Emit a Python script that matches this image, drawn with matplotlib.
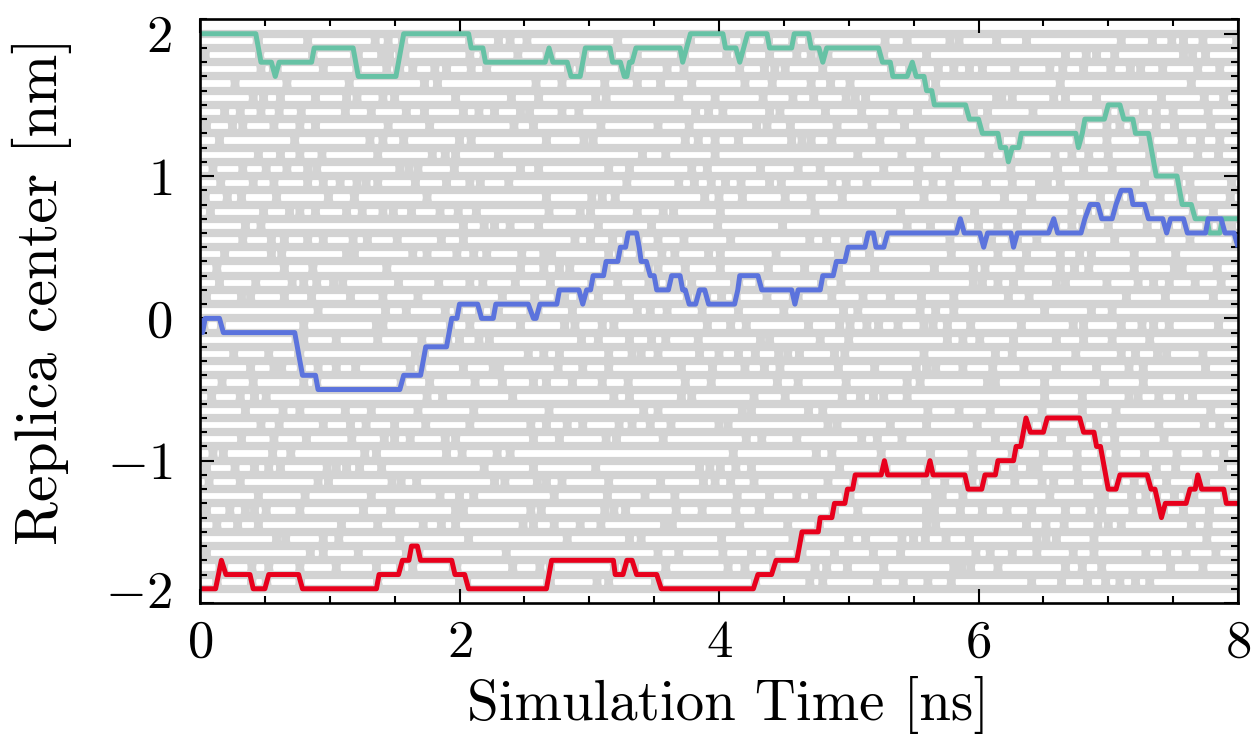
import numpy as np
import matplotlib
matplotlib.use('Agg')
import matplotlib.pyplot as plt
from matplotlib.collections import LineCollection
from matplotlib.transforms import ScaledTranslation

plt.rcParams['font.family'] = 'cmr10'
plt.rcParams['mathtext.fontset'] = 'cm'
plt.rcParams['axes.formatter.use_mathtext'] = True
plt.rcParams['axes.unicode_minus'] = True

# ---------------- data ----------------
replica_centers = [2.0, 1.9, 1.8, 1.7, 1.6, 1.5, 1.4, 1.3, 1.2, 1.1, 1.0, 0.9, 0.8,
                   0.7, 0.6, 0.5, 0.4, 0.3, 0.2, 0.1, 0.0, -0.1, -0.2, -0.3, -0.4,
                   -0.5, -0.6, -0.7, -0.8, -0.9, -1.0, -1.1, -1.2, -1.3, -1.4, -1.5,
                   -1.6, -1.7, -1.8, -1.9]

# exchange times [ns] between neighbouring centres (row g: between centre g and g+1)
swap_rows = [
    [0.45, 0.83, 1.35, 1.45, 1.57, 2.08, 2.30, 2.39, 2.52, 3.22, 3.78, 4.05, 4.2, 4.38, 4.57, 4.70, 5.28, 5.45, 5.78, 5.85, 6.14, 6.37, 7.10, 7.34, 7.49, 7.58, 7.73, 7.99],
    [0.04, 0.46, 0.87, 1.22, 1.40, 1.46, 1.58, 2.08, 2.19, 2.45, 2.69, 2.96, 3.17, 3.37, 3.73, 4.06, 4.15, 4.39, 4.6, 4.71, 4.84, 5.27, 5.60, 6.67, 6.83, 6.91, 7.05, 7.58, 7.65, 7.75],
    [0.47, 0.59, 0.95, 1.21, 1.44, 1.54, 1.64, 1.81, 1.90, 2.09, 2.21, 2.84, 2.93, 3.27, 3.31, 3.6, 3.73, 4.16, 4.35, 4.43, 4.51, 4.8, 5.33, 5.52, 5.69, 5.81, 5.93, 6.03, 6.28, 6.55, 6.65, 6.81, 7.02, 7.17, 7.25, 7.42, 7.69, 7.86],
    [0.27, 0.67, 1.15, 1.73, 1.83, 2.59, 2.79, 3.12, 3.37, 3.55, 3.79, 4.20, 4.41, 4.71, 4.86, 5.01, 5.59, 5.67, 6.63, 7.64],
    [0.41, 0.49, 0.62, 0.89, 1.13, 1.21, 1.41, 1.50, 1.97, 2.40, 2.61, 3.05, 3.13, 3.69, 3.97, 4.34, 4.57, 4.73, 4.98, 5.05, 5.13, 5.65, 6.14, 6.18, 6.26, 6.58, 6.67, 6.91, 7.41, 7.74, 7.89],
    [0.19, 0.31, 0.47, 0.61, 0.78, 1.12, 1.32, 1.59, 1.73, 2.03, 2.15, 2.27, 2.47, 2.54, 2.79, 2.92, 3.82, 3.92, 4.03, 4.39, 4.47, 4.82, 5.10, 5.34, 5.53, 5.96, 6.07, 6.42, 6.99, 7.13, 7.27, 7.37, 7.50, 7.77],
    [0.05, 0.25, 0.33, 0.57, 0.77, 0.89, 1.45, 1.77, 2.42, 2.57, 3.09, 3.53, 3.77, 4.29, 4.37, 4.55, 4.91, 5.18, 5.43, 6.05, 6.78, 6.99, 7.09, 7.37, 7.51, 7.79],
    [0.15, 0.73, 1.31, 1.41, 1.57, 2.00, 2.09, 2.67, 2.96, 3.03, 3.74, 3.84, 3.97, 4.15, 4.56, 4.64, 4.71, 4.87, 5.24, 5.55, 6.16, 6.77, 6.99, 7.27, 7.57, 7.71, 7.86],
    [0.45, 0.62, 0.77, 0.94, 1.37, 1.79, 1.89, 1.97, 2.30, 3.41, 3.59, 3.97, 5.07, 5.41, 5.67, 6.08, 6.59, 6.72, 6.85, 7.00, 7.32, 7.69, 7.85],
    [0.10, 0.33, 0.51, 0.67, 0.83, 0.90, 1.54, 1.61, 1.68, 1.96, 2.47, 2.61, 3.15, 3.31, 3.79, 3.91, 4.32, 4.61, 4.78, 5.27, 5.54, 5.83, 6.25, 6.61, 6.81, 7.03, 7.54],
    [0.16, 0.41, 0.57, 0.83, 0.95, 1.08, 1.21, 1.28, 1.37, 1.66, 1.90, 2.08, 2.16, 2.38, 3.29, 3.69, 3.81, 3.94, 4.05, 4.17, 4.39, 4.48, 4.87, 4.98, 5.14, 5.53, 5.65, 5.78, 6.06, 6.26, 6.47, 6.53, 6.63, 7.28, 7.63, 7.95],
    [0.04, 0.21, 0.32, 0.59, 0.99, 1.19, 1.75, 2.67, 3.02, 3.10, 3.20, 3.89, 4.00, 4.18, 4.51, 4.71, 4.95, 5.58, 5.79, 6.20, 6.41, 6.73, 6.94, 7.08, 7.40, 7.65, 7.94],
    [0.08, 0.49, 0.69, 0.77, 0.89, 1.13, 1.25, 1.41, 1.49, 1.63, 1.85, 1.99, 2.13, 2.69, 2.93, 3.01, 3.37, 3.57, 3.65, 4.01, 4.74, 5.40, 5.97, 6.33, 6.72, 7.32, 7.81],
    [0.35, 0.47, 2.03, 2.19, 2.27, 2.39, 2.61, 3.07, 3.48, 3.99, 4.49, 5.45, 5.63, 6.00, 6.15, 6.30, 6.72, 7.00, 7.30, 7.95],
    [0.33, 0.55, 0.65, 0.83, 0.95, 1.18, 1.29, 1.52, 1.86, 2.03, 2.89, 3.01, 3.18, 3.33, 3.53, 3.73, 4.09, 4.70, 4.83, 4.97, 5.78, 6.10, 6.30, 6.45, 7.05, 7.40, 7.63],
    [0.19, 0.55, 0.63, 1.13, 1.19, 1.64, 1.75, 1.98, 2.11, 2.21, 2.48, 2.65, 2.71, 3.15, 3.56, 3.66, 3.92, 4.01, 4.44, 4.92, 5.16, 5.79, 6.15, 6.37, 6.63, 6.78, 6.87, 7.20, 7.52],
    [0.13, 0.65, 0.87, 1.44, 2.47, 2.65, 2.77, 2.85, 3.13, 3.53, 3.74, 4.01, 4.38, 4.66, 4.92, 5.20, 5.66, 5.96, 6.05, 6.32, 6.63, 6.74, 6.85, 7.20, 7.51, 7.57, 7.84],
    [0.15, 0.43, 0.71, 0.80, 0.90, 1.03, 1.10, 1.53, 1.84, 2.08, 2.18, 2.43, 2.70, 3.22, 3.46, 3.66, 3.79, 4.12, 4.80, 4.94, 5.96, 6.03, 6.15, 6.27, 6.60, 6.67, 6.99, 7.23, 7.35, 7.47, 7.67, 7.87],
    [0.05, 0.32, 0.39, 0.65, 0.86, 1.16, 1.41, 1.68, 2.33, 2.58, 2.81, 3.07, 3.31, 3.76, 4.02, 4.37, 4.61, 4.87, 5.11, 5.32, 5.56, 5.81, 6.23, 6.39, 7.14, 7.44, 7.81],
    [0.91, 1.43, 1.59, 1.89, 2.30, 2.87, 3.37, 3.47, 3.60, 3.87, 4.15, 4.50, 4.96, 5.07, 5.55, 5.67, 5.81, 6.51, 6.87, 7.03],
    [0.80, 1.36, 1.41, 2.08, 2.47, 2.81, 2.89, 3.10, 3.19, 3.91, 4.09, 4.21, 4.69, 4.93, 5.01, 5.14, 5.23, 5.38, 5.58, 5.65, 5.76, 5.94, 6.33, 6.73, 6.81, 7.10, 7.26, 7.35, 7.47, 7.85],
    [0.80, 1.05, 1.37, 1.71, 2.00, 2.15, 2.23, 2.94, 3.07, 3.31, 3.48, 3.59, 3.84, 4.32, 4.39, 4.78, 5.00, 5.76, 5.88, 6.01, 6.27, 6.60, 6.81, 7.03, 7.32],
    [0.26, 0.53, 0.77, 1.66, 2.53, 2.65, 2.77, 3.15, 3.33, 3.40, 3.53, 3.85, 4.00, 4.15, 4.28, 4.46, 4.53, 4.62, 4.89, 4.97, 5.58, 6.13, 6.26, 6.75, 7.10, 7.21, 7.38, 7.45, 7.73],
    [0.39, 0.57, 0.63, 0.91, 1.05, 1.20, 1.62, 2.03, 2.26, 2.31, 2.76, 2.95, 3.15, 3.71, 3.95, 4.20, 4.35, 4.47, 4.92, 5.20, 5.52, 5.60, 5.67, 5.88, 6.11, 6.35, 6.60, 6.91, 7.16, 7.27, 7.75],
    [0.17, 0.41, 0.80, 1.55, 1.77, 2.12, 2.33, 2.57, 2.67, 2.87, 3.10, 3.30, 3.74, 3.94, 4.45, 4.61, 4.98, 5.45, 5.55, 6.07, 6.13, 6.51, 6.97, 7.27],
    [0.09, 0.31, 0.42, 0.51, 1.75, 1.87, 2.41, 3.19, 3.31, 3.71, 3.79, 4.27, 4.51, 4.95, 5.09, 5.19, 5.27, 5.45, 6.51, 6.80, 7.16, 7.23, 7.39, 7.55, 7.65],
    [0.35, 0.64, 0.77, 1.12, 1.32, 1.68, 2.11, 2.69, 3.42, 3.53, 4.18, 4.25, 4.69, 4.80, 5.61, 5.85, 6.09, 6.49, 6.80, 7.06, 7.79],
    [0.47, 0.61, 0.95, 1.16, 1.28, 1.50, 1.74, 2.08, 2.55, 2.67, 2.83, 2.95, 3.23, 3.33, 3.47, 3.63, 4.00, 4.07, 4.84, 4.91, 5.32, 5.60, 5.99, 6.33, 6.91, 7.03, 7.39, 7.74, 7.86],
    [0.32, 0.57, 0.82, 1.17, 1.42, 1.50, 1.62, 1.89, 1.97, 2.57, 2.77, 3.13, 3.21, 3.57, 4.21, 4.33, 4.60, 5.10, 5.22, 5.41, 6.13, 6.64, 6.92, 7.05, 7.43],
    [0.10, 0.18, 0.56, 0.70, 1.27, 1.36, 1.90, 2.02, 2.29, 2.39, 4.11, 4.75, 4.87, 5.25, 5.63, 5.95, 6.26, 6.50, 6.76, 7.06, 7.28, 7.53, 7.76, 7.89],
    [0.05, 0.27, 0.42, 0.53, 0.62, 0.98, 1.05, 1.13, 1.23, 1.40, 2.19, 2.57, 3.05, 3.85, 3.93, 4.01, 4.13, 4.25, 4.93, 5.63, 5.96, 6.27, 6.40, 6.46, 6.76, 7.04, 7.37, 7.52, 7.88],
    [0.07, 0.31, 0.91, 0.99, 1.48, 1.55, 1.67, 2.27, 2.35, 2.60, 2.67, 2.79, 3.15, 3.55, 3.88, 3.97, 4.09, 4.27, 4.84, 5.59, 5.74, 5.95, 6.28, 6.49, 6.58, 6.77, 7.20, 7.45, 7.75],
    [0.45, 0.81, 1.32, 1.85, 2.00, 2.11, 2.73, 3.14, 3.43, 3.66, 4.14, 4.39, 4.60, 4.72, 5.01, 5.67, 5.72, 5.88, 6.55, 6.92, 6.97, 7.18, 7.29, 7.51, 7.66, 7.90],
    [0.05, 0.23, 0.35, 0.42, 0.51, 0.77, 1.26, 1.47, 1.97, 2.03, 2.55, 2.63, 3.12, 3.19, 3.28, 3.67, 3.87, 4.13, 4.31, 4.89, 5.07, 5.60, 5.66, 5.86, 6.03, 6.22, 6.41, 6.67, 6.86, 6.95, 7.19, 7.37, 7.58, 7.78],
    [0.13, 0.29, 0.45, 1.09, 1.37, 1.72, 1.86, 1.97, 2.49, 2.57, 2.73, 2.93, 3.09, 3.58, 3.64, 4.16, 4.53, 4.77, 5.60, 5.67, 6.37, 6.52, 6.66, 6.92, 7.00, 7.10, 7.64, 7.77],
    [0.59, 0.66, 0.95, 1.07, 1.54, 2.07, 2.83, 3.31, 3.40, 4.02, 4.57, 5.00, 5.13, 5.41, 5.50, 5.59, 5.75, 5.93, 6.45, 6.52, 6.60, 6.89, 7.76],
    [0.05, 0.85, 0.95, 1.22, 1.59, 2.36, 3.53, 3.69, 4.03, 4.25, 4.40, 4.64, 4.89, 5.19, 5.40, 5.98, 6.09, 6.26, 6.45, 6.73, 6.89, 7.29, 7.45, 7.60, 7.83],
    [0.17, 0.40, 0.53, 0.77, 1.05, 1.36, 1.64, 1.98, 2.41, 2.62, 3.59, 4.07, 4.20, 4.44, 4.74, 4.83, 4.99, 5.27, 5.81, 5.87, 5.94, 6.15, 6.67, 6.80, 6.95, 7.48, 7.73],
    [0.13, 0.40, 0.51, 0.77, 1.37, 2.00, 2.70, 3.06, 3.15, 3.51, 4.28, 4.70, 4.80, 5.22, 5.42, 5.61, 5.79, 6.41, 6.64, 6.84, 6.98, 7.09, 7.21, 7.32],
]

green_t = [0, 0.43, 0.45, 0.47, 0.55, 0.58, 0.61, 0.86, 0.88, 1.18, 1.20, 1.22, 1.51, 1.53, 1.55, 1.57,
           2.07, 2.09, 2.18, 2.20, 2.66, 2.69, 2.72, 2.83, 2.86, 2.93, 2.95, 2.97, 3.16, 3.18, 3.24,
           3.27, 3.29, 3.31, 3.33, 3.36, 3.70, 3.72, 3.75, 3.78, 4.03, 4.05, 4.13, 4.16, 4.19, 4.22,
           4.37, 4.39, 4.56, 4.58, 4.69, 4.71, 4.77, 4.80, 4.83, 5.23, 5.26, 5.32, 5.34, 5.45, 5.49,
           5.52, 5.58, 5.60, 5.64, 5.66, 5.90, 5.93, 6.00, 6.03, 6.15, 6.17, 6.21, 6.23, 6.26, 6.31,
           6.33, 6.75, 6.77, 6.80, 6.82, 6.97, 7.00, 7.09, 7.12, 7.19, 7.21, 7.31, 7.33, 7.35, 7.37,
           7.53, 7.55, 7.57, 7.64, 7.67, 7.76, 7.78, 7.86, 7.88, 8.0]
green_y = [2.0, 2.0, 1.9, 1.8, 1.8, 1.7, 1.8, 1.8, 1.9, 1.9, 1.8, 1.7, 1.7, 1.8, 1.9, 2.0,
           2.0, 1.9, 1.9, 1.8, 1.8, 1.9, 1.8, 1.8, 1.7, 1.7, 1.8, 1.9, 1.9, 1.8, 1.8,
           1.7, 1.7, 1.8, 1.8, 1.9, 1.9, 1.8, 1.9, 2.0, 2.0, 1.9, 1.9, 1.8, 1.9, 2.0,
           2.0, 1.9, 1.9, 2.0, 2.0, 1.9, 1.9, 1.8, 1.9, 1.9, 1.8, 1.8, 1.7, 1.7, 1.8,
           1.7, 1.7, 1.6, 1.6, 1.5, 1.5, 1.4, 1.4, 1.3, 1.3, 1.2, 1.2, 1.1, 1.2, 1.2,
           1.3, 1.3, 1.2, 1.3, 1.4, 1.4, 1.5, 1.5, 1.4, 1.4, 1.3, 1.3, 1.2, 1.1, 1.0,
           1.0, 0.9, 0.8, 0.8, 0.7, 0.7, 0.6, 0.6, 0.7, 0.7]

blue_t = [0, 0.02, 0.04, 0.15, 0.18, 0.73, 0.75, 0.77, 0.79, 0.89, 0.91, 1.54, 1.57, 1.70, 1.72, 1.74,
          1.90, 1.92, 1.94, 1.98, 2.00, 2.14, 2.17, 2.26, 2.28, 2.53, 2.57, 2.59, 2.62, 2.75, 2.77,
          2.92, 2.95, 2.98, 3.01, 3.03, 3.11, 3.13, 3.22, 3.24, 3.28, 3.30, 3.365, 3.385, 3.40, 3.44,
          3.47, 3.50, 3.52, 3.61, 3.635, 3.70, 3.72, 3.74, 3.77, 3.82, 3.85, 3.89, 3.92, 4.12, 4.145,
          4.16, 4.30, 4.33, 4.56, 4.585, 4.61, 4.78, 4.80, 4.88, 4.905, 4.97, 4.995, 5.125, 5.15, 5.19,
          5.21, 5.27, 5.30, 5.83, 5.86, 5.89, 6.01, 6.04, 6.07, 6.25, 6.27, 6.30, 6.54, 6.58, 6.61,
          6.79, 6.82, 6.86, 6.92, 6.95, 7.03, 7.06, 7.10, 7.17, 7.19, 7.28, 7.31, 7.42, 7.45, 7.48,
          7.58, 7.61, 7.75, 7.77, 7.87, 7.90, 7.97, 8.0]
blue_y = [0.0, -0.1, 0.0, 0.0, -0.1, -0.1, -0.2, -0.3, -0.4, -0.4, -0.5, -0.5, -0.4, -0.4, -0.3, -0.2,
          -0.2, -0.1, 0.0, 0.0, 0.1, 0.1, 0.0, 0.0, 0.1, 0.1, 0.0, 0.0, 0.1, 0.1, 0.2,
          0.2, 0.1, 0.2, 0.2, 0.3, 0.3, 0.4, 0.4, 0.5, 0.5, 0.6, 0.6, 0.5, 0.4, 0.4,
          0.3, 0.3, 0.2, 0.2, 0.3, 0.3, 0.2, 0.2, 0.1, 0.1, 0.2, 0.2, 0.1, 0.1, 0.2,
          0.3, 0.3, 0.2, 0.2, 0.1, 0.2, 0.2, 0.3, 0.3, 0.4, 0.4, 0.5, 0.5, 0.6, 0.6,
          0.5, 0.5, 0.6, 0.6, 0.7, 0.6, 0.6, 0.5, 0.6, 0.6, 0.5, 0.6, 0.6, 0.7, 0.6,
          0.6, 0.7, 0.8, 0.8, 0.7, 0.7, 0.8, 0.9, 0.9, 0.8, 0.8, 0.7, 0.7, 0.6, 0.7,
          0.7, 0.6, 0.6, 0.7, 0.7, 0.6, 0.6, 0.5]

red_t = [0, 0.12, 0.165, 0.20, 0.385, 0.41, 0.50, 0.53, 0.76, 0.79, 1.36, 1.38, 1.53, 1.56, 1.61,
         1.63, 1.675, 1.70, 1.94, 1.965, 2.04, 2.07, 2.67, 2.71, 3.186, 3.20, 3.26, 3.29, 3.33,
         3.365, 3.52, 3.555, 4.265, 4.30, 4.405, 4.44, 4.60, 4.64, 4.765, 4.78, 4.87, 4.89, 4.97,
         4.99, 5.03, 5.05, 5.25, 5.275, 5.30, 5.60, 5.626, 5.65, 5.895, 5.92, 6.025, 6.05, 6.13,
         6.15, 6.27, 6.29, 6.325, 6.366, 6.40, 6.50, 6.53, 6.78, 6.81, 6.89, 6.91, 6.94, 7.0,
         7.06, 7.09, 7.30, 7.33, 7.36, 7.41, 7.44, 7.60, 7.63, 7.67, 7.69, 7.72, 7.89, 7.91, 8.0]
red_y = [-1.9, -1.9, -1.7, -1.8, -1.8, -1.9, -1.9, -1.8, -1.8, -1.9, -1.9, -1.8, -1.8, -1.7, -1.7,
         -1.6, -1.6, -1.7, -1.7, -1.8, -1.8, -1.9, -1.9, -1.7, -1.7, -1.8, -1.8, -1.7, -1.7,
         -1.8, -1.8, -1.9, -1.9, -1.8, -1.8, -1.7, -1.7, -1.5, -1.5, -1.4, -1.4, -1.3, -1.3,
         -1.2, -1.2, -1.1, -1.1, -1.0, -1.1, -1.1, -1.0, -1.1, -1.1, -1.2, -1.2, -1.1, -1.1,
         -1.0, -1.0, -0.9, -0.9, -0.7, -0.8, -0.8, -0.7, -0.7, -0.8, -0.8, -0.9, -0.9, -1.2,
         -1.2, -1.1, -1.1, -1.2, -1.2, -1.4, -1.3, -1.3, -1.2, -1.2, -1.1, -1.2, -1.2, -1.3, -1.3]

x_ticks = [0, 2, 4, 6, 8]
y_ticks = [-2, -1, 0, 1, 2]

# ---------------- style ----------------
GRAY = '#d3d3d3'
GREEN = '#66c2a5'
BLUE = '#5b73dd'
RED = '#e8001c'
DPI = 100
GRAY_LW = 8.2 * 72 / DPI
COL_LW = 5.0 * 72 / DPI
DT = 0.02

fig = plt.figure(figsize=(12.56, 7.44), dpi=DPI)
ax = fig.add_axes([200 / 1256, 1 - 603 / 744, 1038 / 1256, 583.5 / 744])
ax.set_xlim(0, 8)
ax.set_ylim(-2.0, 2.1)

# swaps implied by the highlighted trajectories
rows = [list(r) for r in swap_rows]
for tt, yy in ((green_t, green_y), (blue_t, blue_y), (red_t, red_y)):
    for i in range(len(tt) - 1):
        y0, y1 = yy[i], yy[i + 1]
        n = int(round(abs(y1 - y0) / 0.1))
        for k in range(n):
            hi = max(y0, y1) - 0.1 * k if y1 < y0 else min(y0, y1) + 0.1 * (k + 1)
            g = int(round((2.0 - hi) / 0.1))
            t = tt[i] + (k + 0.5) * (tt[i + 1] - tt[i]) / n
            if 0 <= g < len(rows):
                rows[g].append(t)

ax.hlines(replica_centers, 0, 8, colors=GRAY, linewidth=GRAY_LW, zorder=1)
segs = []
for g, times in enumerate(rows):
    ytop, ybot = replica_centers[g], replica_centers[g + 1]
    for t in times:
        segs.append([(t - DT / 2, ytop), (t + DT / 2, ybot)])
        segs.append([(t - DT / 2, ybot), (t + DT / 2, ytop)])
ax.add_collection(LineCollection(segs, colors=GRAY, linewidths=GRAY_LW, zorder=1))

for tt, yy, c in ((green_t, green_y, GREEN), (blue_t, blue_y, BLUE), (red_t, red_y, RED)):
    ax.plot(tt, yy, color=c, lw=COL_LW, zorder=3, solid_joinstyle='round',
            solid_capstyle='butt')

ax.set_xticks(x_ticks)
ax.set_yticks(y_ticks)
ax.set_xticks(np.arange(0, 8.01, 0.5), minor=True)
ax.set_yticks(np.arange(-2.0, 2.11, 0.1), minor=True)
ax.tick_params(which='both', direction='in', top=True, right=True, width=1.5)
ax.tick_params(which='major', length=10, labelsize=38)
ax.tick_params(which='minor', length=5)
ax.tick_params(axis='x', which='major', pad=12)
ax.tick_params(axis='y', which='major', pad=20)
for s in ax.spines.values():
    s.set_linewidth(1.9)
    s.set_zorder(5)

# lowest y label sits slightly above its tick in the reference
lab = ax.yaxis.get_major_ticks()[0].label1
lab.set_transform(lab.get_transform() + ScaledTranslation(0, 13 / DPI, fig.dpi_scale_trans))

ax.set_xlabel('Simulation Time [ns]', fontsize=41)
ax.set_ylabel('Replica center [nm]', fontsize=43)
ax.xaxis.set_label_coords(0.509, -0.125)
ax.yaxis.set_label_coords(-0.123, 0.535)

fig.savefig('out.png', dpi=DPI)
